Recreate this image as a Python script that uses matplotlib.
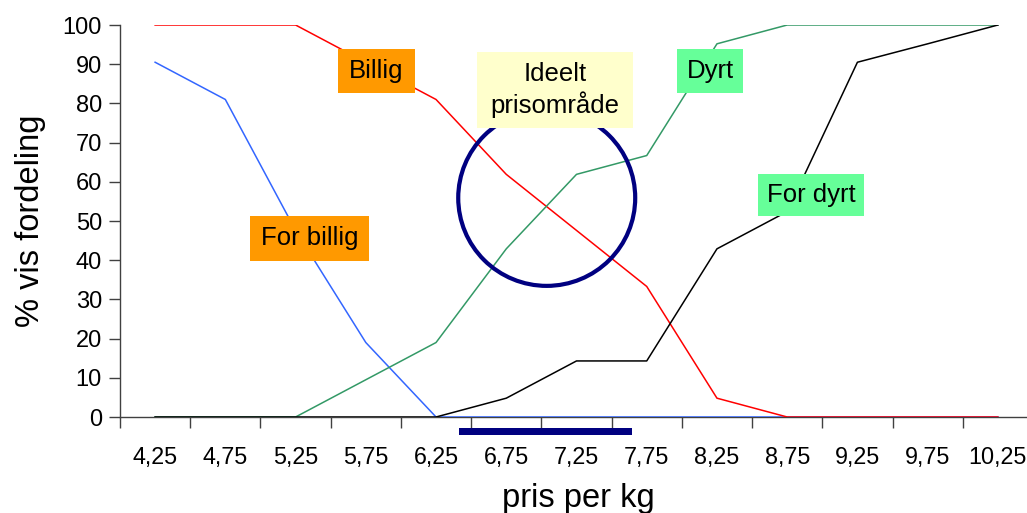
import matplotlib
matplotlib.use("Agg")
import matplotlib.pyplot as plt
from matplotlib.patches import Ellipse, Rectangle
import numpy as np

plt.rcParams['font.family'] = ['Liberation Sans', 'DejaVu Sans']

# ---- data ----
categories = ["4,25", "4,75", "5,25", "5,75", "6,25", "6,75", "7,25",
              "7,75", "8,25", "8,75", "9,25", "9,75", "10,25"]
for_billig = [90.5, 81.0, 47.6, 19.0, 0, 0, 0, 0, 0, 0, 0, 0, 0]
billig = [100, 100, 100, 90.5, 81.0, 61.9, 47.6, 33.3, 4.8, 0, 0, 0, 0]
dyrt = [0, 0, 0, 9.5, 19.0, 42.9, 61.9, 66.7, 95.2, 100, 100, 100, 100]
for_dyrt = [0, 0, 0, 0, 0, 4.8, 14.3, 14.3, 42.9, 52.4, 90.5, 95.2, 100]
y_ticks = [0, 10, 20, 30, 40, 50, 60, 70, 80, 90, 100]

W, H = 1027, 513
fig = plt.figure(figsize=(W / 100, H / 100), dpi=100)
ax = fig.add_axes([120 / W, (H - 417) / H, 913 / W, 392 / H])

x = np.arange(len(categories))
ax.plot(x, for_billig, color="#3366FF", lw=1.1, zorder=3)
ax.plot(x, billig, color="#FF0000", lw=1.1, zorder=3)
ax.plot(x, dyrt, color="#339966", lw=1.1, zorder=3)
ax.plot(x, for_dyrt, color="#000000", lw=1.1, zorder=3)

ax.set_xlim(-0.5, len(categories) - 0.5)
ax.set_ylim(0, 100)
ax.set_yticks(y_ticks)
ax.set_yticklabels([str(v) for v in y_ticks], fontsize=17)
ax.set_xticks(x)
ax.set_xticklabels(categories, fontsize=16.8)
ax.set_xticks(np.arange(len(categories) + 1) - 0.5, minor=True)
ax.tick_params(axis='x', which='major', length=0, pad=21)
ax.tick_params(axis='x', which='minor', length=8, width=1, color="#404040", direction='out')
ax.tick_params(axis='y', length=8, width=1, color="#404040", direction='out', pad=5)
for s in ['top', 'right']:
    ax.spines[s].set_visible(False)
for s in ['left', 'bottom']:
    ax.spines[s].set_color("#404040")
    ax.spines[s].set_linewidth(1)

ax.set_ylabel("% vis fordeling", fontsize=23.5, labelpad=12)
fig.text(578 / W, 1 - 507 / H, "pris per kg", fontsize=23.5, ha='center',
         va='baseline')

# ideal circle
ax.add_patch(Ellipse((5.576, 55.9), 2.52, 44.9, fill=False, edgecolor="#000080",
                     lw=3, zorder=4))

# label boxes (x0, x1, y0, y1 in data units)
def box(x0, x1, y0, y1, color, text):
    ax.add_patch(Rectangle((x0, y0), x1 - x0, y1 - y0, facecolor=color,
                           edgecolor='none', zorder=5, clip_on=False))
    ax.text((x0 + x1) / 2, (y0 + y1) / 2, text, ha='center', va='center',
            fontsize=18.5, zorder=6, linespacing=1.25)

box(2.60, 3.70, 82.7, 93.9, "#FF9900", "Billig")
box(1.35, 3.04, 39.8, 51.3, "#FF9900", "For billig")
box(4.58, 6.80, 73.7, 93.1, "#FFFFCC", "Ideelt\nprisområde")
box(7.43, 8.37, 82.7, 93.9, "#66FF99", "Dyrt")
box(8.59, 10.10, 51.3, 62.0, "#66FF99", "For dyrt")

# ideal range bar below axis
ax.add_patch(Rectangle((4.32, -4.6), 2.47, 1.8, facecolor="#000080",
                       edgecolor='none', clip_on=False, zorder=5))

fig.savefig("out.png", dpi=100)
